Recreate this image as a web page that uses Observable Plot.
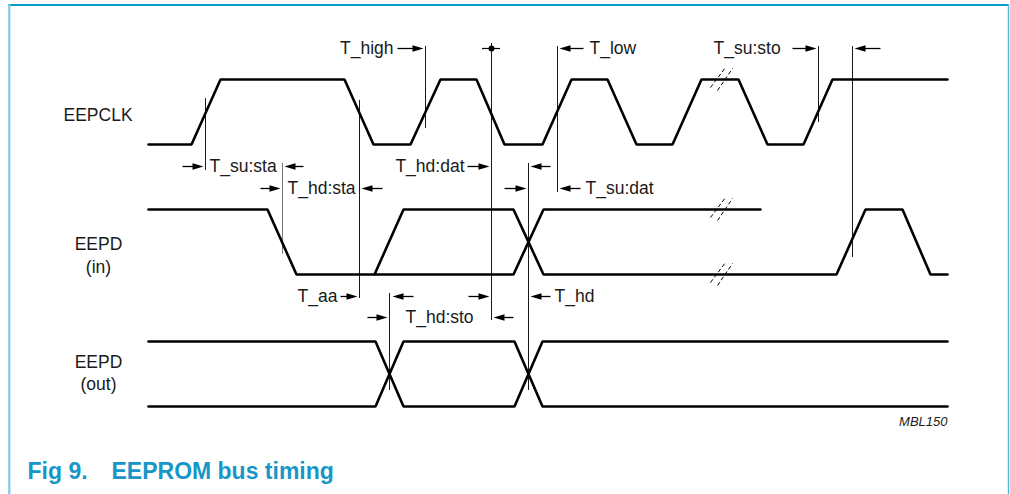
<!DOCTYPE html>
<html><head><meta charset="utf-8">
<script src="https://cdn.jsdelivr.net/npm/d3@7"></script>
<script src="https://cdn.jsdelivr.net/npm/@observablehq/plot@0.6"></script>
<style>body{margin:0;background:#fff;} svg{display:block;}</style>
</head><body><div id="chart"></div>
<script>
// ---------------- data (time positions, levels 0 = low, 1 = high) ----------------
const clkTimes   = [148,191,220,344,373,410,440,476,504,542,571,607,636,672,701,738,767,803,832,947];
const clkLevels  = [0,0,1,1,0,0,1,1,0,0,1,1,0,0,1,1,0,0,1,1];
const inTimesA   = [148,267,296,374,403,513,543,836,865,902,930,947];
const inLevelsA  = [1,1,0,0,1,1,0,0,1,1,0,0];
const inTimesB   = [374,513,543,760];
const inLevelsB  = [0,0,1,1];
const outTimesA  = [148,375,403,514,542,947];
const outLevelsA = [1,1,0,0,1,1];
const outTimesB  = [148,375,403,514,542,947];
const outLevelsB = [0,0,1,1,0,0];

const signalNames = ["EEPCLK", "EEPD\n(in)", "EEPD\n(out)"];

// break marks (time, lane, level)
const breakTimes  = [720, 720, 720];
const breakLanes  = [0, 1, 1];
const breakLevels = [1, 1, 0];

// timing reference lines
const refX      = [205, 282, 359, 389, 425, 491, 528, 557, 818, 852];
const refTop    = [98, 163, 100, 293, 46, 43, 163, 46, 46, 46];
const refBottom = [170, 254, 298, 390, 128, 320, 390, 192, 122, 257];
const refGray   = [false, true, false, false, false, false, false, false, false, false];

// dimension arrows: tail, tip, row
const arrowTail = [182, 303, 260, 382, 397, 583, 467, 550, 504, 580, 340, 413, 468, 550, 367, 513, 792, 880];
const arrowTip  = [203, 284, 280, 361, 423, 559, 489, 530, 526, 559, 357, 392, 489, 530, 387, 493, 816, 854];
const arrowY    = [166, 166, 188, 188, 48, 48, 166, 166, 188, 188, 296, 296, 296, 296, 317, 317, 48, 48];

// timing parameter labels
const labelText   = ["T_su:sta","T_hd:sta","T_high","T_low","T_hd:dat","T_su:dat","T_aa","T_hd","T_hd:sto","T_su:sto"];
const labelX      = [209, 287, 393, 589, 464, 585, 337, 554, 405, 713];
const labelY      = [166, 188, 48, 48, 166, 188, 296, 296, 317, 48];
const labelAnchor = ["start","start","end","start","end","start","end","start","start","start"];

const figNumber = "Fig 9.";
const figTitle  = "EEPROM bus timing";
const figCode   = "MBL150";

// ---------------- layout ----------------
const W = 1010, H = 494;
const laneHigh = [79, 209, 341];
const laneLow  = [144, 274, 406];
const laneY = (lane, level) => level ? laneHigh[lane] : laneLow[lane];
const FONT = "Liberation Sans, Arial, Helvetica, sans-serif";

function trace(times, levels, lane, id) {
  return times.map((t, i) => ({t, y: laneY(lane, levels[i]), id}));
}
const waves = [
  ...trace(clkTimes, clkLevels, 0, "clk"),
  ...trace(inTimesA, inLevelsA, 1, "inA"),
  ...trace(inTimesB, inLevelsB, 1, "inB"),
  ...trace(outTimesA, outLevelsA, 2, "outA"),
  ...trace(outTimesB, outLevelsB, 2, "outB")
];

const slashes = [];
breakTimes.forEach((t, i) => {
  const y = laneY(breakLanes[i], breakLevels[i]);
  slashes.push({x1: t - 10, y1: y + 8, x2: t + 5, y2: y - 12});
  slashes.push({x1: t - 3, y1: y + 11, x2: t + 12, y2: y - 11});
});

const refs = refX.map((x, i) => ({x, y1: refTop[i], y2: refBottom[i], gray: refGray[i]}));
const arrows = arrowTail.map((t, i) => ({tail: t, tip: arrowTip[i], y: arrowY[i], right: arrowTip[i] > t}));
const labels = labelText.map((s, i) => ({s, x: labelX[i], y: labelY[i], a: labelAnchor[i]}));

const headRight = {draw(ctx) { ctx.moveTo(0, 0); ctx.lineTo(-11, -3.3); ctx.lineTo(-11, 3.3); ctx.closePath(); }};
const headLeft  = {draw(ctx) { ctx.moveTo(0, 0); ctx.lineTo(11, -3.3); ctx.lineTo(11, 3.3); ctx.closePath(); }};

const names = [
  {s: signalNames[0], x: 63, y: 113, a: "start"},
  {s: signalNames[1], x: 98, y: 254, a: "middle"},
  {s: signalNames[2], x: 98, y: 371.5, a: "middle"}
];

const textMarks = (rows, opts) => ["start", "middle", "end"].map(a =>
  Plot.text(rows.filter(d => d.a === a), {x: "x", y: "y", text: "s", textAnchor: a, lineAnchor: "middle", ...opts}));

const chart = Plot.plot({
  width: W, height: H,
  margin: 0,
  x: {domain: [0, W], range: [0, W], axis: null},
  y: {domain: [0, H], range: [0, H], axis: null},
  style: {fontFamily: FONT, background: "#fff"},
  marks: [
    // frame
    Plot.ruleY([4.5], {x1: 8, x2: 1009, stroke: "#00a0c6", strokeWidth: 1.8}),
    Plot.ruleX([8.8], {y1: 4, y2: H, stroke: "#7ccbe4", strokeWidth: 2.2}),
    Plot.ruleX([1008], {y1: 4, y2: H, stroke: "#4fb7d8", strokeWidth: 1.4}),
    // reference lines
    Plot.ruleX(refs, {x: "x", y1: "y1", y2: "y2", stroke: d => d.gray ? "#777" : "#1a1a1a", strokeWidth: 1}),
    // waveforms
    Plot.line(waves, {x: "t", y: "y", z: "id", stroke: "#000", strokeWidth: 2.6, strokeLinejoin: "miter", curve: "linear"}),
    // break marks
    Plot.link(slashes, {x1: "x1", y1: "y1", x2: "x2", y2: "y2", stroke: "#000", strokeWidth: 1, strokeDasharray: "4,2.5"}),
    // dimension arrows
    Plot.link(arrows, {x1: "tail", x2: d => d.tip + (d.right ? -6 : 6), y1: "y", y2: "y", stroke: "#000", strokeWidth: 1.3}),
    Plot.dot(arrows.filter(d => d.right), {x: "tip", y: "y", symbol: headRight, fill: "#000", stroke: "none"}),
    Plot.dot(arrows.filter(d => !d.right), {x: "tip", y: "y", symbol: headLeft, fill: "#000", stroke: "none"}),
    // dot marker on T_hd:dat line
    Plot.ruleY([48], {x1: 482, x2: 500, stroke: "#000", strokeWidth: 1.2}),
    Plot.dot([{x: 491, y: 48}], {x: "x", y: "y", r: 3, fill: "#000", stroke: "none"}),
    // labels
    ...textMarks(labels, {fontSize: 17.5, fill: "#1a1a1a"}),
    ...textMarks(names, {fontSize: 17.5, lineHeight: 1.28, fill: "#1a1a1a"}),
    Plot.text([figCode], {x: 947, y: 421, text: d => d, textAnchor: "end", lineAnchor: "middle", fontSize: 13, fontStyle: "italic", fill: "#1a1a1a"}),
    // title
    Plot.text([figNumber], {x: 27, y: 471, text: d => d, textAnchor: "start", lineAnchor: "middle", fontSize: 23, fontWeight: "bold", fill: "#1896c8"}),
    Plot.text([figTitle], {x: 111, y: 471, text: d => d, textAnchor: "start", lineAnchor: "middle", fontSize: 23, fontWeight: "bold", fill: "#1896c8"})
  ]
});
document.getElementById("chart").appendChild(chart);
</script>
</body></html>
